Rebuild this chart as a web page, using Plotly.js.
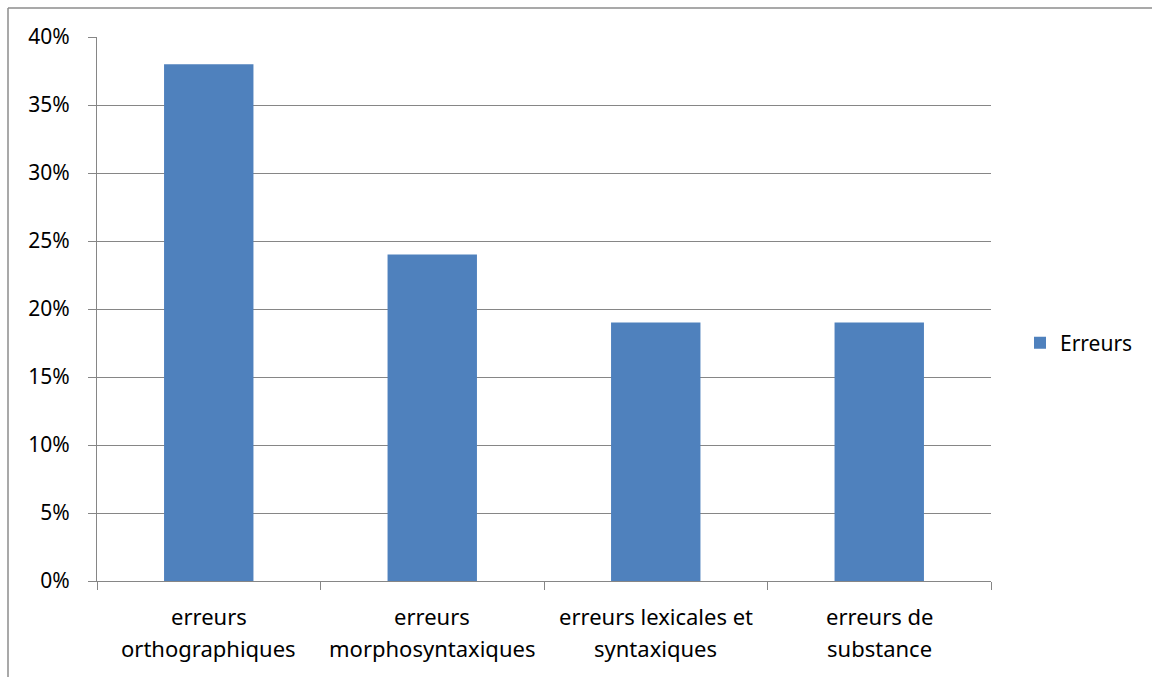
<!DOCTYPE html>
<html>
<head>
<meta charset="utf-8">
<script src="https://cdn.plot.ly/plotly-3.0.1.min.js"></script>
<style>html,body{margin:0;padding:0;background:#fff;}#chart{width:1152px;height:677px;}</style>
</head>
<body>
<div id="chart"></div>
<script>
const categories = ["erreurs<br>orthographiques", "erreurs<br>morphosyntaxiques", "erreurs lexicales et<br>syntaxiques", "erreurs de<br>substance"];
const values = [38, 24, 19, 19];
const seriesName = "Erreurs";
const yTicks = [0, 5, 10, 15, 20, 25, 30, 35, 40];
const yTickLabels = ["0%", "5%", "10%", "15%", "20%", "25%", "30%", "35%", "40%"];

const W = 1152, H = 677;
const L = 97, R = 991, T = 37, B = 581;
const px = x => (x - L) / (R - L);
const py = y => (B - y) / (B - T);
const gray = "#868686";
const FONT = "Noto Sans, Open Sans, sans-serif";
const FS = 21;

// x category labels as two-line annotations (to match line spacing)
const lineY = [616, 648];
const annotations = [];
categories.forEach(c => {
  c.split("<br>").forEach((line, i) => {
    annotations.push({
      xref: "x", yref: "paper", x: c, y: py(lineY[i]),
      text: line, showarrow: false, xanchor: "center", yanchor: "middle",
      font: {family: FONT, size: 22, color: "#000"}
    });
  });
});

Plotly.newPlot("chart", [{
  type: "bar",
  x: categories,
  y: values,
  name: seriesName,
  marker: {color: "#4f81bd"},
  showlegend: true,
  hoverinfo: "y"
}], {
  width: W, height: H,
  margin: {l: L, r: W - R, t: T, b: H - B, pad: 0},
  paper_bgcolor: "#fff", plot_bgcolor: "#fff",
  font: {family: FONT, size: FS, color: "#000"},
  bargap: 0.6,
  showlegend: true,
  legend: {x: px(1020), y: py(343), xanchor: "left", yanchor: "middle", font: {size: FS}, bgcolor: "rgba(0,0,0,0)"},
  xaxis: {
    type: "category", showline: true, linecolor: gray, linewidth: 1,
    ticks: "outside", ticklen: 8, tickcolor: gray, tickson: "boundaries",
    showgrid: false, showticklabels: false, automargin: false
  },
  yaxis: {
    range: [0, 40], tickvals: yTicks, ticktext: yTickLabels,
    showline: true, linecolor: gray, linewidth: 1,
    ticks: "outside", ticklen: 8, tickcolor: gray, ticklabelstandoff: 14,
    showgrid: true, gridcolor: gray, gridwidth: 1,
    zeroline: false, tickfont: {size: FS}, automargin: false
  },
  annotations: annotations,
  shapes: [
    {type: "line", xref: "paper", yref: "paper", x0: px(8), x1: px(1152), y0: py(8), y1: py(8), line: {color: "#8c8c8c", width: 1.5}},
    {type: "line", xref: "paper", yref: "paper", x0: px(8), x1: px(8), y0: py(8), y1: py(677), line: {color: "#8c8c8c", width: 1.5}}
  ]
}, {displayModeBar: false, staticPlot: true});
</script>
</body>
</html>
